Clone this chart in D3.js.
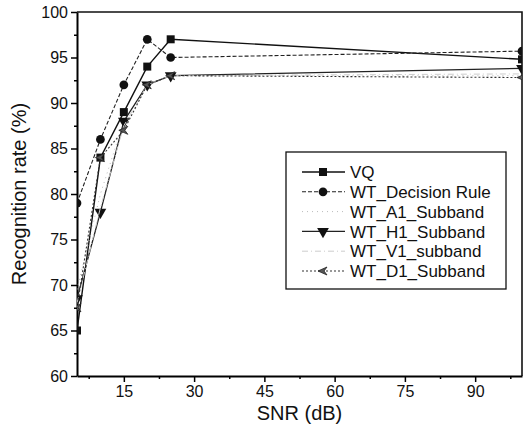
<!DOCTYPE html>
<html>
<head>
<meta charset="utf-8">
<script src="https://cdn.jsdelivr.net/npm/d3@7"></script>
<style>
body { margin: 0; background: #fff; }
text { font-family: "Liberation Sans", Arial, sans-serif; fill: #111; }
</style>
</head>
<body>
<div id="chart"></div>
<script>
// data
const snr = [5, 10, 15, 20, 25, 100]
const vq = [65, 84, 89, 94, 97, 94.8]
const decisionRule = [79, 86, 92, 97, 95, 95.7]
const a1Subband = [69.5, 80, 88, 92, 93, 93]
const h1Subband = [68.5, 78, 88, 92, 93, 93.8]
const v1Subband = [68, 78.5, 87.5, 92, 93, 93.2]
const d1Subband = [67.5, 84, 87, 92, 93, 92.8]
const xTicks = [15, 30, 45, 60, 75, 90]
const yTicks = [60, 65, 70, 75, 80, 85, 90, 95, 100]

const series = [
    {name: "VQ", values: vq, dash: null, color: "#111", marker: "square", width: 1.4},
    {name: "WT_Decision Rule", values: decisionRule, dash: "4,2", color: "#222", marker: "circle", width: 1.1},
    {name: "WT_A1_Subband", values: a1Subband, dash: "1,4", color: "#bbb", marker: null, width: 1},
    {name: "WT_H1_Subband", values: h1Subband, dash: null, color: "#222", marker: "triangle", width: 1.3},
    {name: "WT_V1_subband", values: v1Subband, dash: "6,3,1,3", color: "#ccc", marker: null, width: 1},
    {name: "WT_D1_Subband", values: d1Subband, dash: "2,2", color: "#333", marker: "arrow", width: 1.1}
]

const W = 529, H = 432
const margin = {top: 12, right: 7, bottom: 56, left: 77}
const width = W - margin.left - margin.right
const height = H - margin.top - margin.bottom

const x = d3.scaleLinear().domain([5, 100]).range([0, width])
const y = d3.scaleLinear().domain([60, 100]).range([height, 0])

const svg = d3.select("#chart").append("svg")
    .attr("width", W)
    .attr("height", H)
const g = svg.append("g")
    .attr("transform", "translate(" + margin.left + "," + margin.top + ")")

svg.append("clipPath").attr("id", "clip")
    .append("rect").attr("width", width).attr("height", height)
    .attr("x", margin.left).attr("y", margin.top)

// frame top and right
g.append("path")
    .attr("d", "M0,0H" + width + "V" + height)
    .attr("fill", "none")
    .attr("stroke", "#111")
    .attr("stroke-width", 1.6)

// minor ticks
const xMinor = d3.range(7.5, 100, 15)
const yMinor = d3.range(62.5, 100, 5)
g.append("g")
    .attr("transform", "translate(0," + height + ")")
    .call(d3.axisBottom(x).tickValues(xMinor).tickSize(3).tickFormat(""))
    .call(a => a.select(".domain").remove())
    .selectAll("line").attr("stroke-width", 1.5)
g.append("g")
    .call(d3.axisLeft(y).tickValues(yMinor).tickSize(3).tickFormat(""))
    .call(a => a.select(".domain").remove())
    .selectAll("line").attr("stroke-width", 1.5)

// major axes
const xAxis = g.append("g")
    .attr("transform", "translate(0," + height + ")")
    .call(d3.axisBottom(x).tickValues(xTicks).tickSize(6).tickSizeOuter(0).tickPadding(4))
xAxis.select(".domain").attr("stroke-width", 2)
xAxis.selectAll("line").attr("stroke-width", 1.5)
xAxis.selectAll("text").style("font-size", "16px")

const yAxis = g.append("g")
    .call(d3.axisLeft(y).tickValues(yTicks).tickSize(6).tickSizeOuter(0).tickPadding(3))
yAxis.select(".domain").attr("stroke-width", 2)
yAxis.selectAll("line").attr("stroke-width", 1.5)
yAxis.selectAll("text").style("font-size", "16px")

// axis titles
svg.append("text")
    .attr("x", margin.left + width / 2)
    .attr("y", 420)
    .attr("text-anchor", "middle")
    .style("font-size", "20px")
    .text("SNR (dB)")
svg.append("text")
    .attr("transform", "translate(26," + (margin.top + height / 2) + ") rotate(-90)")
    .attr("text-anchor", "middle")
    .style("font-size", "20px")
    .text("Recognition rate (%)")

const markerPath = (type) => {
    if (type === "square") return d3.symbol(d3.symbolSquare, 64)()
    if (type === "circle") return d3.symbol(d3.symbolCircle, 60)()
    if (type === "triangle") return d3.symbol(d3.symbolTriangle, 60)()
    if (type === "arrow") return "M-5,0L4,-4L1,0L4,4Z"
    return null
}
const markerRotate = (type) => type === "triangle" ? " rotate(180)" : ""

const line = d3.line()
    .x(d => x(d.x))
    .y(d => y(d.y))

const plot = svg.append("g").attr("clip-path", "url(#clip)")
    .append("g")
    .attr("transform", "translate(" + margin.left + "," + margin.top + ")")
series.forEach(s => {
    const pts = snr.map((v, i) => ({x: v, y: s.values[i]}))
    plot.append("path")
        .datum(pts)
        .attr("d", line)
        .attr("fill", "none")
        .attr("stroke", s.color)
        .attr("stroke-width", s.width)
        .attr("stroke-dasharray", s.dash)
    if (s.marker) {
        plot.selectAll(null)
            .data(pts)
            .enter()
            .append("path")
            .attr("d", markerPath(s.marker))
            .attr("transform", d => "translate(" + x(d.x) + "," + y(d.y) + ")" + markerRotate(s.marker))
            .attr("fill", s.marker === "arrow" ? "#555" : "#111")
            .attr("stroke", s.marker === "arrow" ? "#222" : "none")
            .attr("stroke-width", 0.8)
    }
})

// legend
const legend = svg.append("g").attr("transform", "translate(286,152)")
legend.append("rect")
    .attr("width", 220)
    .attr("height", 137)
    .attr("fill", "#fff")
    .attr("stroke", "#111")
    .attr("stroke-width", 1.3)
series.forEach((s, i) => {
    const row = legend.append("g").attr("transform", "translate(0," + (20 + i * 19.8) + ")")
    row.append("line")
        .attr("x1", 16).attr("x2", 59)
        .attr("stroke", s.color)
        .attr("stroke-width", s.width)
        .attr("stroke-dasharray", s.dash)
    if (s.marker) {
        row.append("path")
            .attr("d", markerPath(s.marker))
            .attr("transform", "translate(37,0)" + markerRotate(s.marker))
            .attr("fill", s.marker === "arrow" ? "#555" : "#111")
            .attr("stroke", s.marker === "arrow" ? "#222" : "none")
            .attr("stroke-width", 0.8)
    }
    row.append("text")
        .attr("x", 64)
        .attr("dy", "0.36em")
        .style("font-size", "17px")
        .text(s.name)
})
</script>
</body>
</html>
